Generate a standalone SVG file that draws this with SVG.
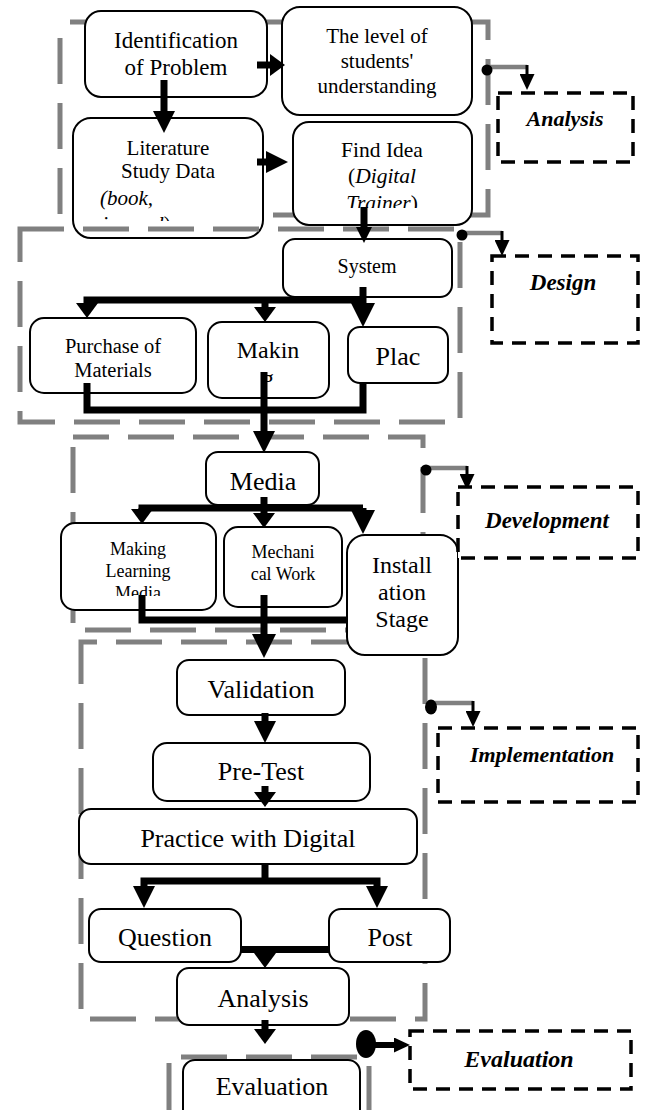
<svg xmlns="http://www.w3.org/2000/svg" width="646" height="1110" viewBox="0 0 646 1110">
<style>
.node rect{fill:#fff;stroke:#000;stroke-width:2}
text{font-family:"Liberation Serif","Times New Roman",serif;fill:#000;text-anchor:middle}
text.st{text-anchor:start}
.frame{fill:none;stroke:#808080;stroke-width:5;stroke-dasharray:46 19}
.phase rect{fill:#fff;stroke:#000;stroke-width:3.5;stroke-dasharray:14 9}
.lbl{font-weight:bold;font-style:italic}
.it{font-style:italic}
.conn path{fill:none;stroke:#000;stroke-width:7}
.ind .g{fill:none;stroke:#808080;stroke-width:4.5}
.ind .b{fill:none;stroke:#000;stroke-width:3}
</style>
<defs>
<marker id="hL" markerUnits="userSpaceOnUse" markerWidth="24" markerHeight="24" viewBox="0 0 24 24" refX="0" refY="12" orient="auto"><path d="M0,0 L24,12 L0,24 z" fill="#000"/></marker>
<marker id="hM" markerUnits="userSpaceOnUse" markerWidth="22" markerHeight="22" viewBox="0 0 22 22" refX="0" refY="11" orient="auto"><path d="M0,0 L22,11 L0,22 z" fill="#000"/></marker>
<marker id="hS" markerUnits="userSpaceOnUse" markerWidth="15" markerHeight="22" viewBox="0 0 15 22" refX="0" refY="11" orient="auto"><path d="M0,0 L15,11 L0,22 z" fill="#000"/></marker>
<marker id="hN" markerUnits="userSpaceOnUse" markerWidth="16" markerHeight="16" viewBox="0 0 16 16" refX="0" refY="8" orient="auto"><path d="M0,0 L16,8 L0,16 z" fill="#000"/></marker>
<marker id="hP" markerUnits="userSpaceOnUse" markerWidth="16" markerHeight="15" viewBox="0 0 16 15" refX="0" refY="7.5" orient="auto"><path d="M0,0 L16,7.5 L0,15 z" fill="#000"/></marker>
<clipPath id="cLit"><rect x="73" y="118" width="190" height="103"/></clipPath>
<clipPath id="cIdea"><rect x="293" y="122" width="179" height="86"/></clipPath>
<clipPath id="cSys"><rect x="283" y="239" width="169" height="45"/></clipPath>
<clipPath id="cMak"><rect x="208" y="322" width="121" height="61"/></clipPath>
<clipPath id="cMlm"><rect x="61" y="523" width="155" height="73"/></clipPath>
</defs>

<rect class="frame" id="frame-analysis" x="60" y="22" width="428" height="193" stroke-dashoffset="55"/>

<g id="n-ident" class="node"><rect x="85" y="11" width="182" height="86" rx="16"/>
<text x="176" y="48" font-size="23">Identification</text><text x="176" y="75" font-size="23">of Problem</text></g>
<g id="n-level" class="node"><rect x="282" y="7" width="190" height="108" rx="18"/>
<text x="377" y="43" font-size="21">The level of</text><text x="377" y="68" font-size="21">students'</text><text x="377" y="93" font-size="21">understanding</text></g>
<g id="n-lit" class="node"><rect x="73" y="118" width="190" height="120" rx="18"/>
<g clip-path="url(#cLit)"><text x="168" y="155" font-size="21">Literature</text><text x="168" y="178" font-size="21">Study Data</text>
<text x="100" y="205" font-size="21" class="it st">(book,</text>
<text x="102" y="231" font-size="21" class="st"><tspan class="it">journal</tspan>)</text></g></g>
<g id="n-idea" class="node"><rect x="293" y="122" width="179" height="103" rx="16"/>
<g clip-path="url(#cIdea)"><text x="382" y="157" font-size="21.5">Find Idea</text>
<text x="382" y="183" font-size="21.5">(<tspan class="it">Digital</tspan></text>
<text x="382" y="210" font-size="21.5"><tspan class="it">Trainer</tspan>)</text></g></g>

<rect class="frame" id="frame-design" x="20" y="229" width="440" height="193" stroke-dashoffset="2"/>
<rect class="frame" id="frame-development" x="73" y="437" width="350" height="193" stroke-dashoffset="10"/>
<rect class="frame" id="frame-implementation" x="81" y="642" width="344" height="377" stroke-dashoffset="30"/>
<g id="frame-evaluation" class="frame"><path d="M181,1057 H360"/><path d="M169,1063 V1115 M369,1066 V1115" style="stroke-dasharray:none"/></g>

<g id="n-system" class="node"><rect x="283" y="239" width="169" height="58" rx="12"/>
<g clip-path="url(#cSys)"><text x="367" y="273" font-size="20">System</text><text x="367" y="298" font-size="20">Design</text></g></g>
<g id="n-purchase" class="node"><rect x="30" y="318" width="166" height="75" rx="14"/>
<text x="113" y="353" font-size="20.5">Purchase of</text><text x="113" y="377" font-size="20.5">Materials</text></g>
<g id="n-makin" class="node"><rect x="208" y="322" width="121" height="76" rx="14"/>
<g clip-path="url(#cMak)"><text x="268" y="358" font-size="24">Makin</text><text x="268" y="386" font-size="24">g</text></g></g>
<g id="n-plac" class="node"><rect x="348" y="327" width="100" height="56" rx="12"/>
<text x="398" y="365" font-size="26">Plac</text></g>
<g id="n-media" class="node"><rect x="206" y="452" width="113" height="53" rx="12"/>
<text x="263" y="490" font-size="26">Media</text></g>
<g id="n-mlm" class="node"><rect x="61" y="523" width="155" height="87" rx="14"/>
<g clip-path="url(#cMlm)"><text x="138" y="555" font-size="18">Making</text><text x="138" y="577" font-size="18">Learning</text><text x="138" y="599" font-size="18">Media</text></g></g>
<g id="n-mech" class="node"><rect x="224" y="527" width="118" height="80" rx="14"/>
<text x="283" y="558" font-size="18">Mechani</text><text x="283" y="580" font-size="18">cal Work</text></g>
<g id="n-install" class="node"><rect x="347" y="535" width="111" height="120" rx="18"/>
<text x="402" y="573" font-size="24">Install</text><text x="402" y="600" font-size="24">ation</text><text x="402" y="627" font-size="24">Stage</text></g>
<g id="n-valid" class="node"><rect x="177" y="660" width="168" height="55" rx="12"/>
<text x="261" y="698" font-size="26">Validation</text></g>
<g id="n-pretest" class="node"><rect x="153" y="743" width="217" height="58" rx="14"/>
<text x="261" y="780" font-size="26">Pre-Test</text></g>
<g id="n-practice" class="node"><rect x="79" y="809" width="338" height="55" rx="12"/>
<text x="248" y="847" font-size="26">Practice with Digital</text></g>
<g id="n-question" class="node"><rect x="89" y="909" width="152" height="53" rx="12"/>
<text x="165" y="946" font-size="26">Question</text></g>
<g id="n-post" class="node"><rect x="329" y="909" width="121" height="53" rx="12"/>
<text x="390" y="946" font-size="26">Post</text></g>
<g id="n-analysis" class="node"><rect x="177" y="968" width="172" height="57" rx="12"/>
<text x="263" y="1007" font-size="26">Analysis</text></g>
<g id="n-eval" class="node"><rect x="183" y="1060" width="177" height="70" rx="12"/>
<text x="272" y="1095" font-size="26">Evaluation</text></g>

<g id="connectors" class="conn">
<path d="M257,65 H270" marker-end="url(#hS)"/>
<path d="M164,80 V111" marker-end="url(#hM)"/>
<path d="M257,162 H266" marker-end="url(#hM)"/>
<path d="M364,207 V227" stroke-width="6" marker-end="url(#hN)"/>
<path d="M363,287 V303" marker-end="url(#hL)"/>
<path d="M363,300 H87 V303" stroke-width="6" marker-end="url(#hS)"/>
<path d="M265,300 V307" marker-end="url(#hS)"/>
<path d="M87,383 V410 H363 V383"/>
<path d="M264,372 V431" marker-end="url(#hM)"/>
<path d="M264,497 V513" marker-end="url(#hS)"/>
<path d="M142,509 V508 H363" stroke-width="6"/>
<path d="M142,508 V509" marker-end="url(#hS)"/>
<path d="M363,508 V510" marker-end="url(#hL)"/>
<path d="M142,595 V620 H347"/>
<path d="M264,595 V634" marker-end="url(#hL)"/>
<path d="M265,713 V721" marker-end="url(#hM)"/>
<path d="M265,786 V792" marker-end="url(#hS)"/>
<path d="M265,864 V881" stroke-width="5"/>
<path d="M265,881 H144 V886" stroke-width="6" marker-end="url(#hM)"/>
<path d="M265,881 H377 V886" stroke-width="6" marker-end="url(#hM)"/>
<path d="M241,949.5 H329" stroke-width="10"/>
<path d="M265,949 V953" marker-end="url(#hS)"/>
<path d="M265,1020 V1029" marker-end="url(#hS)"/>
</g>

<g id="ind-analysis" class="ind"><path class="g" d="M487,67 H527"/><circle cx="487" cy="70" r="5.5"/><path class="b" d="M527,65 V74" marker-end="url(#hP)"/></g>
<g id="ind-design" class="ind"><path class="g" d="M462,233 H502"/><circle cx="462" cy="235" r="5.5"/><path class="b" d="M502,231 V240" marker-end="url(#hP)"/></g>
<g id="ind-development" class="ind"><path class="g" d="M426,468 H467"/><circle cx="426" cy="470" r="5.5"/><path class="b" d="M467,466 V474" marker-end="url(#hP)"/></g>
<g id="ind-implementation" class="ind"><path class="g" d="M431,703 H473"/><ellipse cx="431" cy="707" rx="6" ry="7.5"/><path class="b" d="M473,701 V711" marker-end="url(#hP)"/></g>
<g id="ind-evaluation" class="ind"><ellipse cx="366" cy="1044" rx="10" ry="14"/><path class="b" d="M370,1045 H394" style="stroke-width:6" marker-end="url(#hP)"/></g>

<g id="p-analysis" class="phase"><rect x="498" y="93" width="135" height="69"/><text class="lbl" x="565" y="126" font-size="22">Analysis</text></g>
<g id="p-design" class="phase"><rect x="492" y="256" width="146" height="87"/><text class="lbl" x="563" y="290" font-size="23">Design</text></g>
<g id="p-development" class="phase"><rect x="458" y="487" width="180" height="71"/><text class="lbl" x="547" y="528" font-size="23">Development</text></g>
<g id="p-implementation" class="phase"><rect x="438" y="728" width="200" height="74"/><text class="lbl" x="542" y="762" font-size="22">Implementation</text></g>
<g id="p-evaluation" class="phase"><rect x="410" y="1031" width="221" height="58"/><text class="lbl" x="519" y="1067" font-size="24">Evaluation</text></g>
</svg>
